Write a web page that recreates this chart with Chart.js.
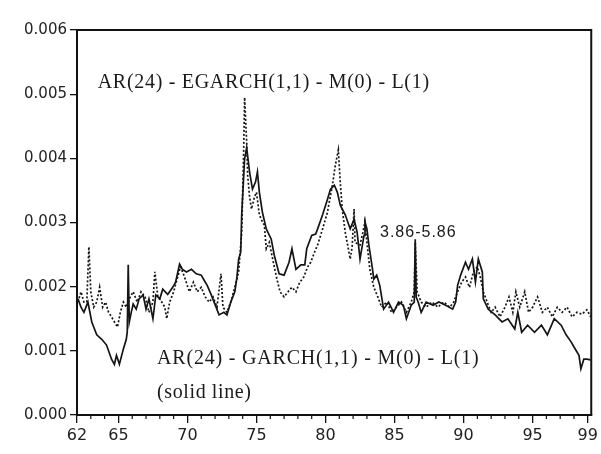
<!DOCTYPE html>
<html>
<head>
<meta charset="utf-8">
<script src="https://cdn.jsdelivr.net/npm/chart.js@4.4.1/dist/chart.umd.min.js"></script>
<style>
  html, body { margin: 0; padding: 0; background: #ffffff; }
  #wrap { width: 601px; height: 454px; }
</style>
</head>
<body>
<div id="wrap"><canvas id="c" width="601" height="454"></canvas></div>
<script>
// ---- Data (values in units of 1e-4) ----
const garchYears = [62.07,62.29,62.5,62.79,63.07,63.43,63.79,64.14,64.5,64.71,64.86,65.07,65.36,65.57,65.64,65.71,65.79,65.93,66.07,66.29,66.5,66.79,67.0,67.21,67.5,67.71,68.0,68.21,68.57,68.93,69.14,69.43,69.64,69.93,70.29,70.64,71.0,71.21,71.43,71.71,71.93,72.29,72.64,72.86,73.14,73.43,73.57,73.71,73.86,73.93,74.14,74.29,74.5,74.71,74.93,75.07,75.21,75.43,75.71,76.07,76.29,76.64,77.0,77.36,77.57,77.86,78.21,78.5,78.64,79.0,79.29,79.43,79.79,80.14,80.36,80.64,80.86,81.07,81.43,81.79,82.07,82.29,82.5,82.79,82.86,83.0,83.14,83.36,83.5,83.71,83.93,84.21,84.57,84.93,85.29,85.64,85.86,86.21,86.43,86.5,86.57,86.71,86.93,87.29,87.79,88.21,88.71,89.21,89.43,89.57,89.79,90.14,90.36,90.64,90.86,91.07,91.36,91.43,91.79,92.29,92.79,93.21,93.71,93.93,94.21,94.64,95.14,95.64,96.07,96.57,97.07,97.43,97.79,98.0,98.36,98.5,98.71,98.93,99.21];
const garchVol = [18.1,16.8,16.0,17.6,14.5,12.5,11.8,10.9,8.7,7.9,9.3,7.9,10.3,11.8,12.9,23.4,14.5,16.0,17.3,16.5,18.1,18.7,16.5,18.1,15.0,18.7,18.1,19.6,18.8,19.9,20.7,23.5,22.7,22.3,22.7,22.0,21.8,21.0,20.2,18.8,17.6,15.6,16.0,15.6,17.6,19.2,21.2,24.3,25.4,31.2,39.9,41.7,37.9,35.2,36.3,37.9,34.7,31.6,29.0,27.4,24.9,22.0,21.8,23.8,25.9,22.7,23.4,23.4,25.9,28.0,28.2,29.0,31.2,33.6,35.2,35.8,34.7,32.7,31.2,29.0,30.5,28.5,24.3,28.0,30.1,29.0,26.5,23.4,21.2,21.8,20.2,16.5,17.6,16.0,17.6,17.1,15.0,17.1,17.6,27.4,18.4,17.6,16.0,17.6,17.1,17.6,17.1,16.5,17.6,20.2,21.8,23.8,22.7,24.3,20.7,24.3,22.3,18.1,16.5,15.6,14.5,15.0,13.4,16.0,12.9,14.0,12.9,14.0,12.5,15.0,14.0,12.5,11.4,10.6,9.3,7.2,8.7,8.7,8.6];

const egarchYears = [62.07,62.29,62.5,62.71,62.86,63.0,63.21,63.43,63.64,63.86,64.07,64.29,64.5,64.71,64.93,65.14,65.36,65.57,65.86,66.07,66.36,66.64,66.93,67.21,67.5,67.64,67.86,68.14,68.36,68.5,68.71,69.0,69.29,69.5,69.79,70.14,70.43,70.71,71.0,71.29,71.57,71.86,72.14,72.43,72.57,72.86,73.14,73.43,73.71,73.93,74.07,74.14,74.29,74.36,74.5,74.64,74.86,75.0,75.21,75.43,75.57,75.71,75.93,76.07,76.29,76.5,76.71,77.0,77.29,77.57,77.86,78.14,78.43,78.71,78.93,79.21,79.43,79.79,80.14,80.5,80.71,80.93,81.07,81.21,81.43,81.57,81.79,81.93,82.07,82.14,82.5,82.71,82.86,83.0,83.21,83.5,83.79,84.07,84.43,84.79,85.14,85.5,85.86,86.21,86.43,86.5,86.64,86.93,87.29,87.71,88.14,88.57,89.0,89.29,89.57,89.86,90.14,90.43,90.71,91.0,91.21,91.43,91.71,92.0,92.29,92.64,93.0,93.29,93.57,93.79,94.07,94.43,94.71,95.0,95.36,95.71,96.07,96.43,96.79,97.14,97.5,97.86,98.21,98.57,98.93,99.21];
const egarchVol = [17.6,19.2,17.6,17.6,26.2,19.2,16.8,17.6,19.9,16.8,17.6,16.0,15.3,14.5,13.7,16.0,17.6,16.8,18.4,19.2,17.6,19.2,18.4,16.0,17.6,22.3,18.4,17.6,16.8,15.0,17.6,19.2,21.5,23.1,21.5,19.2,20.7,19.2,19.9,18.4,17.6,18.4,16.8,22.0,16.8,16.0,17.6,19.9,22.3,28.5,41.0,49.5,42.5,37.4,34.0,32.1,34.0,34.7,31.2,30.1,29.6,25.9,26.9,25.4,23.1,21.0,19.2,18.4,19.2,19.9,19.2,20.7,21.5,23.1,23.8,25.4,26.5,29.0,31.6,35.8,38.9,41.3,36.3,32.1,28.5,26.9,24.3,26.2,32.1,26.9,26.5,28.5,30.1,26.9,22.7,19.9,18.4,16.8,17.6,16.0,16.8,17.6,16.0,17.6,19.2,26.9,19.2,17.6,16.8,17.6,16.8,17.6,16.8,17.6,19.2,20.7,21.5,19.9,22.3,23.1,21.5,19.2,17.6,16.0,16.8,15.3,16.8,18.4,16.0,19.2,16.8,19.2,16.0,16.8,18.4,16.0,16.8,15.3,16.8,16.0,16.8,15.3,16.0,15.7,16.4,15.3];

const xTickLabels = [62, 65, 70, 75, 80, 85, 90, 95, 99];
const yTickValues = [0, 0.001, 0.002, 0.003, 0.004, 0.005, 0.006];

const labelEgarch = "AR(24) - EGARCH(1,1) - M(0) - L(1)";
const labelGarch = "AR(24) - GARCH(1,1) - M(0) - L(1)";
const labelSolid = "(solid line)";
const labelPeriod = "3.86-5.86";

const SCALE = 1e-4;
const toPoints = (xs, vs) => xs.map((x, i) => ({ x: x, y: vs[i] * SCALE }));

const framePlugin = {
  id: 'frame',
  afterDraw(chart) {
    const { ctx, chartArea: a, scales } = chart;
    ctx.save();
    ctx.strokeStyle = '#111';
    ctx.lineWidth = 2;
    ctx.beginPath();
    ctx.moveTo(a.left, a.top);
    ctx.lineTo(a.right, a.top);
    ctx.lineTo(a.right, a.bottom);
    ctx.stroke();
    // minor yearly ticks on x axis
    ctx.lineWidth = 1.2;
    ctx.beginPath();
    for (let yr = 63; yr <= 98; yr++) {
      if (xTickLabels.includes(yr)) continue;
      const px = scales.x.getPixelForValue(yr);
      ctx.moveTo(px, a.bottom);
      ctx.lineTo(px, a.bottom + 4);
    }
    ctx.stroke();
    // annotations
    ctx.fillStyle = '#1a1a1a';
    ctx.textBaseline = 'middle';
    ctx.textAlign = 'left';
    const put = (txt, xv, yv, font, spacing) => {
      ctx.font = font;
      try { ctx.letterSpacing = spacing; } catch (e) {}
      ctx.fillText(txt, scales.x.getPixelForValue(xv), scales.y.getPixelForValue(yv));
    };
    put(labelEgarch, 63.5, 0.00518, '20px "Liberation Serif"', '0.7px');
    put(labelGarch, 67.8, 0.00088, '20px "Liberation Serif"', '0.8px');
    put(labelSolid, 67.8, 0.00034, '20px "Liberation Serif"', '0.6px');
    put(labelPeriod, 83.95, 0.00285, '16px "Liberation Sans"', '1px');
    ctx.restore();
  }
};

new Chart(document.getElementById('c'), {
  type: 'line',
  data: {
    datasets: [
      {
        label: 'AR(24)-GARCH(1,1)-M(0)-L(1)',
        data: toPoints(garchYears, garchVol),
        borderColor: '#151515',
        borderWidth: 1.7,
        pointRadius: 0,
        tension: 0,
        fill: false
      },
      {
        label: 'AR(24)-EGARCH(1,1)-M(0)-L(1)',
        data: toPoints(egarchYears, egarchVol),
        borderColor: '#151515',
        borderWidth: 1.7,
        borderDash: [2, 2],
        pointRadius: 0,
        tension: 0,
        fill: false
      }
    ]
  },
  options: {
    responsive: false,
    animation: false,
    devicePixelRatio: 1,
    layout: { padding: { top: 30, right: 3, left: 0, bottom: 0 } },
    plugins: { legend: { display: false }, tooltip: { enabled: false } },
    scales: {
      x: {
        type: 'linear',
        min: 62,
        max: 99.25,
        afterBuildTicks: (s) => { s.ticks = xTickLabels.map(v => ({ value: v })); },
        afterFit: (s) => { s.height = 39; },
        ticks: {
          color: '#222',
          font: { family: '"DejaVu Sans"', size: 16 },
          padding: 3,
          maxRotation: 0,
          autoSkip: false,
          callback: (v) => String(v)
        },
        grid: { display: true, drawOnChartArea: false, drawTicks: true, tickLength: 8, color: '#111', lineWidth: 1.3 },
        border: { display: true, color: '#111', width: 2 }
      },
      y: {
        min: 0,
        max: 0.006,
        afterBuildTicks: (s) => { s.ticks = yTickValues.map(v => ({ value: v })); },
        afterFit: (s) => { s.width = 77; },
        ticks: {
          color: '#222',
          font: { family: '"DejaVu Sans"', size: 15 },
          padding: 3,
          callback: (v) => v.toFixed(3)
        },
        grid: { display: true, drawOnChartArea: false, drawTicks: true, tickLength: 7, color: '#111', lineWidth: 1.3 },
        border: { display: true, color: '#111', width: 2 }
      }
    }
  },
  plugins: [framePlugin]
});
</script>
</body>
</html>
